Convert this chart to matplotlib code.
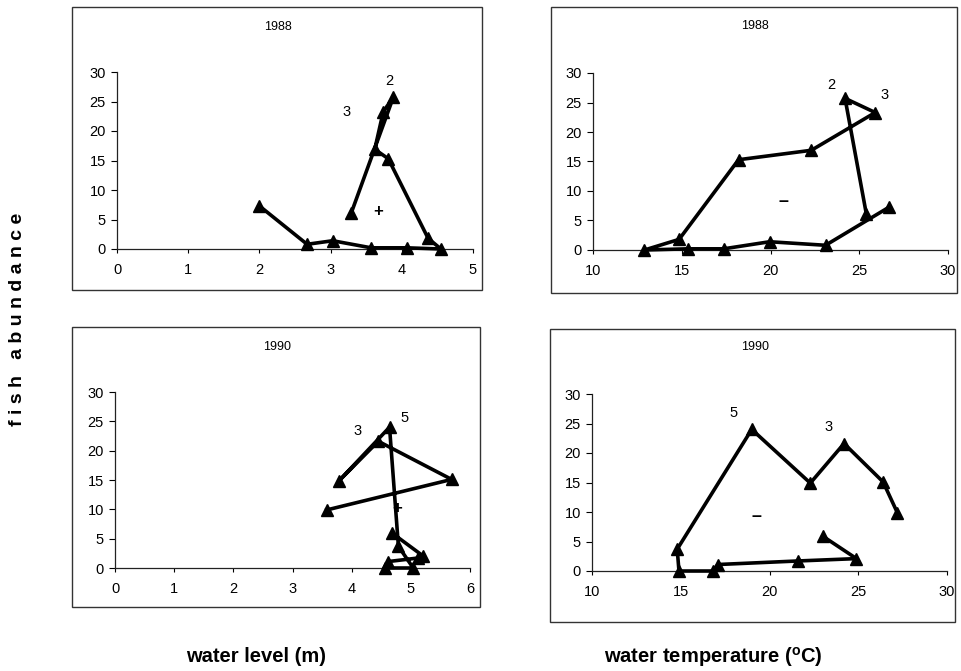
import matplotlib
matplotlib.use("Agg")
import matplotlib.pyplot as plt
from matplotlib.patches import Rectangle

plt.rcParams['font.family'] = ['Liberation Sans', 'DejaVu Sans']

# monthly values, Jan..Dec
fish_88 = [6.1, 25.7, 23.3, 16.9, 15.3, 1.8, 0.0, 0.2, 0.2, 1.4, 0.8, 7.3]
level_88 = [3.29, 3.88, 3.74, 3.62, 3.81, 4.37, 4.55, 4.07, 3.57, 3.03, 2.67, 2.0]
temp_88 = [25.4, 24.2, 25.9, 22.3, 18.2, 14.85, 12.9, 15.35, 17.36, 19.95, 23.1, 26.7]

fish_90 = [9.9, 15.1, 21.6, 14.9, 24.0, 3.7, 0.0, 0.0, 1.1, 1.7, 2.1, 5.9]
level_90 = [3.58, 5.69, 4.45, 3.79, 4.64, 4.79, 5.04, 4.56, 4.62, 5.12, 5.2, 4.69]
temp_90 = [27.2, 26.4, 24.2, 22.3, 19.0, 14.8, 14.9, 16.8, 17.1, 21.6, 24.9, 23.0]

W, H = 961, 671
fig = plt.figure(figsize=(W / 100, H / 100), dpi=100)


def px_axes(x0, y0, x1, y1):
    return fig.add_axes([x0 / W, 1 - y1 / H, (x1 - x0) / W, (y1 - y0) / H])


def frame(x0, y0, x1, y1):
    fig.patches.append(Rectangle((x0 / W, 1 - y1 / H), (x1 - x0) / W, (y1 - y0) / H,
                                 transform=fig.transFigure, fill=False,
                                 edgecolor='#333333', lw=1.0))


def style(ax, xlim, xticks):
    ax.set_xlim(*xlim)
    ax.set_ylim(0, 30)
    ax.set_xticks(xticks)
    ax.set_yticks(range(0, 31, 5))
    for s in ['top', 'right']:
        ax.spines[s].set_visible(False)
    for s in ['left', 'bottom']:
        ax.spines[s].set_color('#222222')
        ax.spines[s].set_linewidth(0.9)
    ax.tick_params(axis='y', direction='out', length=4, width=0.8, pad=4, labelsize=10.5)
    ax.tick_params(axis='x', direction='out', length=3, width=0.8, pad=7, labelsize=10.5)
    ax.patch.set_alpha(0)


def draw(ax, x, y):
    ax.plot(x, y, color='black', lw=2.6, marker='^', markersize=8, clip_on=False, zorder=3)


frame(72, 7, 482, 290)
frame(551, 7, 957, 293)
frame(72, 327, 480, 607)
frame(550, 329, 955, 622)

ax1 = px_axes(117, 72, 473, 249)
style(ax1, (0, 5), range(0, 6))
draw(ax1, level_88, fish_88)
ax1.text(3.83, 28.4, '2', ha='center', va='center', fontsize=10.5)
ax1.text(3.22, 23.2, '3', ha='center', va='center', fontsize=10.5)
ax1.text(3.67, 6.4, '+', ha='center', va='center', fontsize=12, fontweight='bold')

ax2 = px_axes(593, 73, 948, 250)
style(ax2, (10, 30), range(10, 31, 5))
draw(ax2, temp_88, fish_88)
ax2.text(23.45, 27.9, '2', ha='center', va='center', fontsize=10.5)
ax2.text(26.4, 26.3, '3', ha='center', va='center', fontsize=10.5)
ax2.text(20.75, 8.2, '\u2013', ha='center', va='center', fontsize=13, fontweight='bold')

ax3 = px_axes(115, 392, 470, 568)
style(ax3, (0, 6), range(0, 7))
draw(ax3, level_90, fish_90)
ax3.text(4.1, 23.3, '3', ha='center', va='center', fontsize=10.5)
ax3.text(4.9, 25.6, '5', ha='center', va='center', fontsize=10.5)
ax3.text(4.76, 10.2, '+', ha='center', va='center', fontsize=12, fontweight='bold')

ax4 = px_axes(592, 394, 947, 571)
style(ax4, (10, 30), range(10, 31, 5))
draw(ax4, temp_90, fish_90)
ax4.text(17.97, 26.7, '5', ha='center', va='center', fontsize=10.5)
ax4.text(23.3, 24.4, '3', ha='center', va='center', fontsize=10.5)
ax4.text(19.28, 9.3, '\u2013', ha='center', va='center', fontsize=13, fontweight='bold')

fig.text(278 / W, 1 - 27 / H, '1988', ha='center', va='center', fontsize=9)
fig.text(755 / W, 1 - 26 / H, '1988', ha='center', va='center', fontsize=9)
fig.text(277 / W, 1 - 347 / H, '1990', ha='center', va='center', fontsize=9)
fig.text(755 / W, 1 - 347 / H, '1990', ha='center', va='center', fontsize=9)

fig.text(256 / W, 1 - 657 / H, 'water level (m)', ha='center', va='center',
         fontsize=14.5, fontweight='bold')
fig.text(713 / W, 1 - 657 / H, 'water temperature ($\\mathregular{^{o}}$C)', ha='center', va='center',
         fontsize=14.5, fontweight='bold')
fig.text(18 / W, 1 - 319 / H, 'f i s h   a b u n d a n c e', ha='center', va='center',
         rotation=90, fontsize=14, fontweight='bold')

fig.savefig('out.png', dpi=100)
